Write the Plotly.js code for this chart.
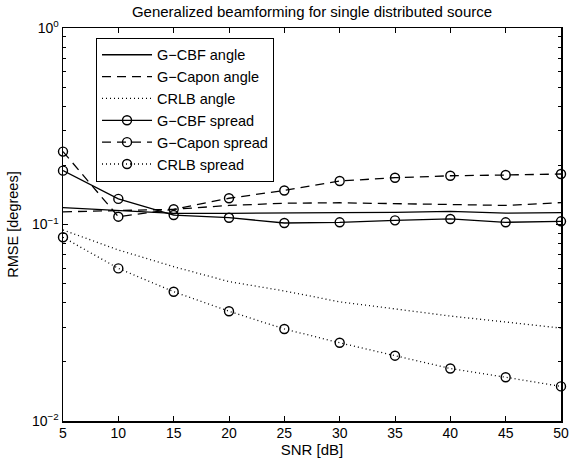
<!DOCTYPE html>
<html>
<head>
<meta charset="utf-8">
<script src="https://cdn.plot.ly/plotly-3.0.1.min.js"></script>
<style>html,body{margin:0;padding:0;background:#fff;}#chart{width:569px;height:468px;}</style>
</head>
<body>
<div id="chart"></div>
<script>
// SNR values (dB)
var snr = [5, 10, 15, 20, 25, 30, 35, 40, 45, 50];
// RMSE [degrees]
var gcbfAngle   = [0.122, 0.1175, 0.114, 0.114, 0.1148, 0.1148, 0.1152, 0.1167, 0.1143, 0.1148];
var gcaponAngle = [0.116, 0.118, 0.1195, 0.125, 0.1283, 0.129, 0.1282, 0.1264, 0.125, 0.1293];
var crlbAngle   = [0.0938, 0.0742, 0.061, 0.0512, 0.0459, 0.0404, 0.0372, 0.0342, 0.0319, 0.0297];
var gcbfSpread  = [0.188, 0.135, 0.1117, 0.1083, 0.1018, 0.1026, 0.105, 0.1067, 0.1026, 0.1038];
var gcaponSpread= [0.235, 0.1096, 0.1195, 0.136, 0.149, 0.1665, 0.173, 0.177, 0.1786, 0.1807];
var crlbSpread  = [0.0861, 0.0598, 0.0455, 0.0362, 0.0294, 0.025, 0.0215, 0.0185, 0.0167, 0.015];
var names = ["G\u2212CBF angle", "G\u2212Capon angle", "CRLB angle", "G\u2212CBF spread", "G\u2212Capon spread", "CRLB spread"];
var xTicks = [5, 10, 15, 20, 25, 30, 35, 40, 45, 50];
var yTickVals = [0.01, 0.1, 1];
var yTickText = ["10<sup>\u22122</sup>", "10<sup>\u22121</sup>", "10<sup>0</sup>"];

var series = [gcbfAngle, gcaponAngle, crlbAngle, gcbfSpread, gcaponSpread, crlbSpread];
var dashes = ["solid", "9px,6px", "1px,3px", "solid", "9px,6px", "1px,3px"];
var traces = series.map(function (ys, i) {
  var withMarkers = i >= 3;
  return {
    x: snr, y: ys, name: names[i], type: "scatter",
    mode: withMarkers ? "lines+markers" : "lines",
    line: {color: "#000", width: 1.3, dash: dashes[i]},
    marker: {symbol: "circle-open", size: 9, color: "#000", line: {color: "#000", width: 1.4}},
    cliponaxis: false
  };
});

var minorVals = [];
[0.01, 0.1].forEach(function (d) { for (var k = 2; k <= 9; k++) minorVals.push(d * k); });

var font = "Liberation Sans, Arial, Helvetica, sans-serif";
var layout = {
  width: 569, height: 468,
  margin: {l: 63, r: 8, t: 28, b: 47, pad: 0},
  paper_bgcolor: "#fff", plot_bgcolor: "#fff",
  font: {family: font, size: 14, color: "#000"},
  title: {text: "Generalized beamforming for single distributed source", font: {family: font, size: 15, color: "#000"},
          x: 0.5, xref: "paper", xanchor: "center", y: 1 - 12 / 468, yref: "container", yanchor: "middle"},
  showlegend: true,
  legend: {x: 0.0663, y: 0.975, xanchor: "left", yanchor: "top", bgcolor: "#fff", bordercolor: "#000", borderwidth: 1,
           font: {family: font, size: 14.5, color: "#000"}, traceorder: "normal", itemwidth: 50, tracegroupgap: 0},
  xaxis: {
    range: [5, 50], tickvals: xTicks, ticktext: xTicks.map(String),
    ticks: "inside", ticklen: 5, tickwidth: 1, tickcolor: "#000",
    showline: true, linecolor: "#000", linewidth: 1.5, mirror: "ticks",
    showgrid: false, zeroline: false, ticklabelstandoff: -1,
    tickfont: {family: font, size: 14, color: "#000"},
    title: {text: "SNR [dB]", font: {family: font, size: 15, color: "#000"}, standoff: 0}
  },
  yaxis: {
    type: "log", range: [-2, 0], tickvals: yTickVals, ticktext: yTickText,
    ticks: "inside", ticklen: 5, tickwidth: 1, tickcolor: "#000",
    minor: {tickvals: minorVals, ticks: "inside", ticklen: 3, tickwidth: 1, tickcolor: "#000", showgrid: false},
    showline: true, linecolor: "#000", linewidth: 1.5, mirror: "ticks",
    showgrid: false, zeroline: false,
    tickfont: {family: font, size: 14, color: "#000"},
    title: {text: "RMSE [degrees]", font: {family: font, size: 14.5, color: "#000"}, standoff: 10}
  }
};

Plotly.newPlot("chart", traces, layout, {displayModeBar: false, staticPlot: true});
</script>
</body>
</html>
